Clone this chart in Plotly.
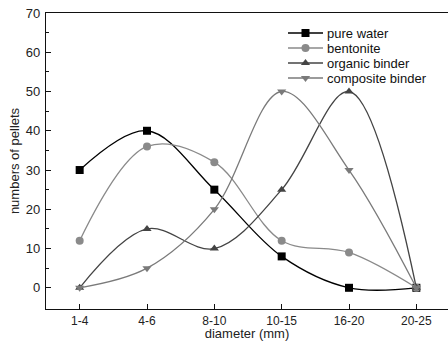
import plotly.graph_objects as go

categories = ["1-4", "4-6", "8-10", "10-15", "16-20", "20-25"]
pure_water = [30, 40, 25, 8, 0, 0]
bentonite = [12, 36, 32, 12, 9, 0]
organic_binder = [0, 15, 10, 25, 50, 0]
composite_binder = [0, 5, 20, 50, 30, 0]

series = [
    ("pure water", pure_water, "#000000", "square"),
    ("bentonite", bentonite, "#8a8a8a", "circle"),
    ("organic binder", organic_binder, "#444444", "triangle-up"),
    ("composite binder", composite_binder, "#7a7a7a", "triangle-down"),
]

W, H = 448, 341
ML, MR, MT, MB = 46, 0, 13, 32

xi = list(range(len(categories)))
fig = go.Figure()
for name, vals, col, sym in series:
    fig.add_trace(go.Scatter(
        x=xi, y=vals, name=name, mode="lines+markers", showlegend=False,
        line=dict(color=col, width=1.3, shape="spline", smoothing=1.0),
        marker=dict(symbol=sym, size=8, color=col),
    ))

# compact legend drawn on an overlay axis measured in pixels
leg_rows = [33, 48, 63, 78]
leg_x0, leg_x1, leg_text = 288, 323, 326
for (name, vals, col, sym), ry in zip(series, leg_rows):
    fig.add_trace(go.Scatter(
        x=[leg_x0, leg_x1], y=[ry, ry],
        xaxis="x2", yaxis="y2", mode="lines", showlegend=False,
        hoverinfo="skip", line=dict(color=col, width=1.3),
    ))
    fig.add_trace(go.Scatter(
        x=[(leg_x0 + leg_x1) / 2], y=[ry],
        xaxis="x2", yaxis="y2", mode="markers", showlegend=False,
        hoverinfo="skip", marker=dict(symbol=sym, size=8, color=col),
    ))
    fig.add_annotation(x=leg_text, y=ry, xref="x2", yref="y2", text=name,
                       showarrow=False, xanchor="left", yanchor="middle",
                       borderpad=0, font=dict(size=13, color="#111"))

font = "Liberation Sans, Arial, sans-serif"
fig.update_layout(
    width=W, height=H,
    margin=dict(l=ML, r=MR, t=MT, b=MB),
    plot_bgcolor="white", paper_bgcolor="white",
    font=dict(family=font, size=13, color="#222"),
    showlegend=False,
    xaxis=dict(
        range=[-0.5, 5.47], tickmode="array", tickvals=xi, ticktext=categories,
        showgrid=False, zeroline=False, showline=True, linecolor="#111",
        linewidth=1.2, mirror=True, ticks="inside", ticklen=5, tickcolor="#111",
        ticklabelstandoff=0, tickfont=dict(size=12),
        title=dict(text="diameter (mm)", standoff=2, font=dict(size=13)),
    ),
    yaxis=dict(
        range=[-5.4, 70], tickvals=[0, 10, 20, 30, 40, 50, 60, 70],
        showgrid=False, zeroline=False, showline=True, linecolor="#111",
        linewidth=1.2, ticks="inside", ticklen=5, tickcolor="#111",
        ticklabelstandoff=2,
        minor=dict(tickvals=[5, 15, 25, 35, 45, 55, 65], ticks="inside", ticklen=3, tickcolor="#111"),
        title=dict(text="numbers of pellets", standoff=3, font=dict(size=13)),
    ),
    xaxis2=dict(overlaying="x", range=[ML, W - MR], visible=False, fixedrange=True),
    yaxis2=dict(overlaying="y", range=[H - MB, MT], visible=False, fixedrange=True),
)
fig.write_html("out.html")
